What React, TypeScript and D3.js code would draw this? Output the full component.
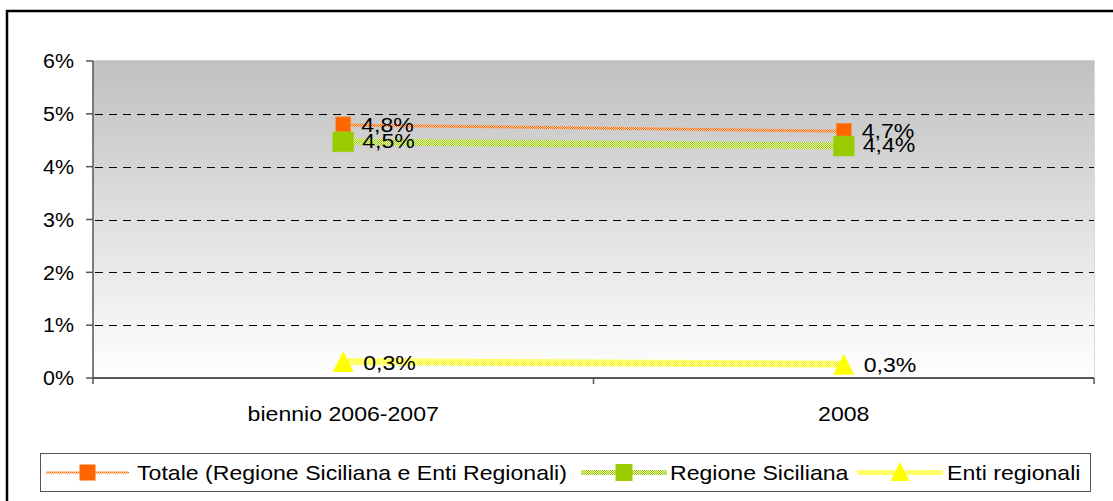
import React from "react";
import * as d3 from "d3";

const categories = ["biennio 2006-2007", "2008"];
const totale = [4.79, 4.67];
const regione = [4.47, 4.39];
const enti = [0.31, 0.26];
const totaleLabels = ["4,8%", "4,7%"];
const regioneLabels = ["4,5%", "4,4%"];
const entiLabels = ["0,3%", "0,3%"];
const yTicks = [0, 1, 2, 3, 4, 5, 6];
const legendNames = ["Totale (Regione Siciliana e Enti Regionali)", "Regione Siciliana", "Enti regionali"];

const W = 1113, H = 501;
const left = 93, right = 1094, top = 61, bottom = 378;
const font = "'Liberation Sans', Arial, sans-serif";
const SX = 1.155;

function T(props: { x: number; y: number; anchor?: string; size?: number; sx?: number; dy?: string; children: React.ReactNode }) {
  const { x, y, anchor = "start", size = 20, sx = SX, dy, children } = props;
  return (
    <text transform={`translate(${x},${y}) scale(${sx},1)`} textAnchor={anchor} fontSize={size} dy={dy} fill="#000">
      {children}
    </text>
  );
}

const triangleType = {
  draw(context: any, size: number) {
    const w = Math.sqrt(size);
    context.moveTo(0, -w / 2);
    context.lineTo(w / 2, w / 2);
    context.lineTo(-w / 2, w / 2);
    context.closePath();
  },
};

export default function App() {
  const x = d3.scaleBand<string>().domain(categories).range([left, right]);
  const cx = (c: string) => (x(c) as number) + x.bandwidth() / 2;
  const y = d3.scaleLinear().domain([0, 6]).range([bottom, top]);
  const line = d3.line<number>().x((_, i) => cx(categories[i])).y((v) => y(v));
  const tri = d3.symbol().type(triangleType as any).size(21 * 21)() as string;
  const triSmall = d3.symbol().type(triangleType as any).size(19 * 19)() as string;

  return (
    <svg width={W} height={H} style={{ position: "absolute", left: 0, top: 0 }} fontFamily={font}>
      <defs>
        <linearGradient id="bg" x1="0" y1="0" x2="0" y2="1">
          <stop offset="0" stopColor="#c0c0c0" />
          <stop offset="1" stopColor="#ffffff" />
        </linearGradient>
        <pattern id="pOrange" width="2" height="2" patternUnits="userSpaceOnUse">
          <rect width="2" height="2" fill="#ffd0b0" />
          <rect width="1" height="1" fill="#ff6600" />
          <rect x="1" y="1" width="1" height="1" fill="#ff6600" />
        </pattern>
        <pattern id="pGreen" width="2" height="2" patternUnits="userSpaceOnUse">
          <rect width="2" height="2" fill="#eef8c8" />
          <rect width="1" height="1" fill="#99cc00" />
          <rect x="1" y="1" width="1" height="1" fill="#99cc00" />
        </pattern>
        <pattern id="pYellow" width="2" height="2" patternUnits="userSpaceOnUse">
          <rect width="2" height="2" fill="#ffffd0" />
          <rect width="1" height="1" fill="#ffff00" />
          <rect x="1" y="1" width="1" height="1" fill="#ffff00" />
        </pattern>
      </defs>
      <rect x={0} y={0} width={W} height={H} fill="#fff" />
      {/* outer border */}
      <line x1={6} y1={11} x2={W} y2={11} stroke="#000" strokeWidth={2.5} />
      <line x1={7} y1={10} x2={7} y2={H} stroke="#000" strokeWidth={2.5} />

      {/* plot background */}
      <rect x={left} y={top - 1} width={right - left} height={bottom - top + 1} fill="url(#bg)" />
      <line x1={right + 0.5} y1={top - 1} x2={right + 0.5} y2={bottom} stroke="#d8d8d8" strokeWidth={1} />
      <line x1={left} y1={top - 0.5} x2={right} y2={top - 0.5} stroke="#d0d0d0" strokeWidth={1} />

      {/* gridlines */}
      {yTicks.filter((t) => t > 0 && t < 6).map((t) => (
        <line key={t} x1={left + 2} x2={right} y1={Math.round(y(t)) + 0.5} y2={Math.round(y(t)) + 0.5} stroke="#000" strokeWidth={1} strokeDasharray="8,6" />
      ))}

      {/* axes */}
      <line x1={left} y1={top} x2={left} y2={bottom} stroke="#555" strokeWidth={1.5} />
      <line x1={left} y1={bottom} x2={right} y2={bottom} stroke="#555" strokeWidth={2} />
      {yTicks.map((t) => (
        <g key={t}>
          <line x1={left - 7} x2={left} y1={y(t)} y2={y(t)} stroke="#555" strokeWidth={1.5} />
          <T x={74} y={y(t)} dy="0.36em" anchor="end" size={20} sx={1.07}>{t}%</T>
        </g>
      ))}
      {[left, ...categories.map((c) => (x(c) as number) + x.bandwidth())].map((v, i) => (
        <line key={i} x1={v} x2={v} y1={bottom} y2={bottom + 6} stroke="#555" strokeWidth={1.5} />
      ))}
      {categories.map((c) => (
        <T key={c} x={cx(c)} y={421} anchor="middle">{c}</T>
      ))}

      {/* series lines */}
      <path d={line(enti) as string} fill="none" stroke="url(#pYellow)" strokeWidth={7} />
      <path d={line(regione) as string} fill="none" stroke="url(#pGreen)" strokeWidth={7} />
      <path d={line(totale) as string} fill="none" stroke="url(#pOrange)" strokeWidth={3} />

      {/* markers */}
      {enti.map((v, i) => (
        <path key={i} d={tri} transform={`translate(${cx(categories[i])},${y(v)})`} fill="#ffff00" />
      ))}
      {totale.map((v, i) => (
        <rect key={i} x={cx(categories[i]) - 7.5} y={y(v) - 8} width={15} height={16} fill="#ff6600" stroke="#ff8c3a" strokeWidth={0.5} />
      ))}
      {regione.map((v, i) => (
        <rect key={i} x={cx(categories[i]) - 10.5} y={y(v) - 10} width={21} height={20} fill="#99cc00" stroke="#a8d030" strokeWidth={0.5} />
      ))}

      {/* data labels */}
      {totale.map((v, i) => (
        <T key={i} x={cx(categories[i]) + 18} y={y(v) + 7}>{totaleLabels[i]}</T>
      ))}
      {regione.map((v, i) => (
        <T key={i} x={cx(categories[i]) + 19} y={y(v) + 6}>{regioneLabels[i]}</T>
      ))}
      {enti.map((v, i) => (
        <T key={i} x={cx(categories[i]) + 20} y={y(v) + 8}>{entiLabels[i]}</T>
      ))}

      {/* legend */}
      <rect x={40.5} y={453.5} width={1050} height={38} fill="#fff" stroke="#555" strokeWidth={1} />
      {[
        { x0: 46, x1: 129, stroke: "url(#pOrange)", w: 2, kind: "sq", sw: 16, sh: 16, fill: "#ff6600", tx: 137 },
        { x0: 581, x1: 667, stroke: "url(#pGreen)", w: 5, kind: "sq", sw: 17, sh: 17, fill: "#99cc00", tx: 670 },
        { x0: 857, x1: 943, stroke: "url(#pYellow)", w: 5, kind: "tri", sw: 0, sh: 0, fill: "#ffff00", tx: 947 },
      ].map((l, i) => {
        const mx = (l.x0 + l.x1) / 2;
        const my = 472.5;
        return (
          <g key={i}>
            <line x1={l.x0} x2={l.x1} y1={my} y2={my} stroke={l.stroke} strokeWidth={l.w} />
            {l.kind === "sq" ? (
              <rect x={mx - l.sw / 2} y={my - l.sh / 2} width={l.sw} height={l.sh} fill={l.fill} />
            ) : (
              <path d={triSmall} transform={`translate(${mx},${my - 1})`} fill={l.fill} />
            )}
            <T x={l.tx} y={my} dy="0.36em">{legendNames[i]}</T>
          </g>
        );
      })}
    </svg>
  );
}
